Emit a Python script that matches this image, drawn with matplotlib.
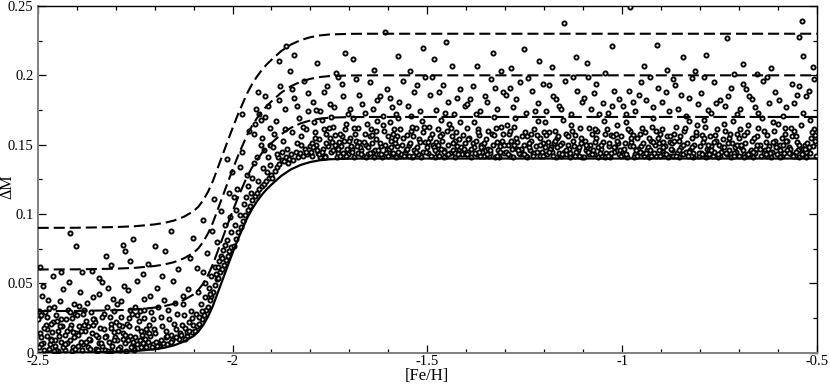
import numpy as np
import matplotlib
matplotlib.use("Agg")
import matplotlib.pyplot as plt

# ---- model curves ----
curve_feh = [-2.5, -2.4, -2.3, -2.25, -2.2, -2.175, -2.15, -2.125, -2.1, -2.0875, -2.075, -2.0625,
             -2.05, -2.0375, -2.025, -2.0125, -2.0, -1.9875, -1.975, -1.9625, -1.95, -1.9375, -1.925,
             -1.9125, -1.9, -1.875, -1.85, -1.825, -1.8, -1.775, -1.75, -1.7, -1.65, -0.5]
curve_base = [0.0, 0.0001, 0.0006, 0.0012, 0.0025, 0.0036, 0.0053, 0.0080, 0.0120, 0.0153, 0.0200, 0.0262,
              0.0340, 0.0435, 0.0530, 0.0625, 0.0718, 0.0808, 0.0890, 0.0970, 0.1035, 0.1090, 0.1138,
              0.1178, 0.1212, 0.1275, 0.1322, 0.1354, 0.1375, 0.1388, 0.1395, 0.1399, 0.14, 0.14]
curve_03 = [0.03, 0.0301, 0.0306, 0.0312, 0.0325, 0.0336, 0.0353, 0.0380, 0.0420, 0.0453, 0.0500, 0.0562,
            0.0640, 0.0735, 0.0830, 0.0925, 0.1018, 0.1108, 0.1190, 0.1270, 0.1335, 0.1390, 0.1438,
            0.1478, 0.1512, 0.1575, 0.1622, 0.1654, 0.1675, 0.1688, 0.1695, 0.1699, 0.17, 0.17]
curve_06 = [0.06, 0.0601, 0.0606, 0.0612, 0.0625, 0.0636, 0.0653, 0.0680, 0.0720, 0.0753, 0.0800, 0.0862,
            0.0940, 0.1035, 0.1130, 0.1225, 0.1318, 0.1408, 0.1490, 0.1570, 0.1635, 0.1690, 0.1738,
            0.1778, 0.1812, 0.1875, 0.1922, 0.1954, 0.1975, 0.1988, 0.1995, 0.1999, 0.20, 0.20]
curve_09 = [0.09, 0.0901, 0.0906, 0.0912, 0.0925, 0.0936, 0.0953, 0.0980, 0.1020, 0.1053, 0.1100, 0.1162,
            0.1240, 0.1335, 0.1430, 0.1525, 0.1618, 0.1708, 0.1790, 0.1870, 0.1935, 0.1990, 0.2038,
            0.2078, 0.2112, 0.2175, 0.2222, 0.2254, 0.2275, 0.2288, 0.2295, 0.2299, 0.23, 0.23]

# ---- stars: ([Fe/H] in 1e-3 dex, DeltaM in 1e-3) ----
stars_metal_poor = [
 (-2494,14),(-2471,3),(-2452,27),(-2418,9),(-2437,19),(-2406,35),(-2486,7),(-2461,22),(-2429,2),(-2489,41),
 (-2445,12),(-2412,25),(-2477,17),(-2456,5),(-2423,31),(-2498,24),(-2466,10),(-2434,46),(-2402,14),(-2481,29),
 (-2448,1),(-2415,20),(-2473,38),(-2440,8),(-2409,4),(-2491,11),(-2458,33),(-2426,16),(-2484,2),(-2450,23),
 (-2420,51),(-2496,30),(-2468,6),(-2431,13),(-2404,28),(-2479,20),(-2443,37),(-2413,1),(-2463,15),(-2487,48),
 (-2475,26),(-2455,9),(-2435,4),(-2417,18),(-2492,6),(-2470,32),(-2447,16),(-2427,24),(-2408,11),
 (-2417,86),(-2402,77),(-2494,62),(-2460,55),(-2440,58),
 (-2397,13),(-2372,4),(-2355,24),(-2318,8),(-2339,18),(-2306,39),(-2384,6),(-2362,29),(-2327,2),(-2391,44),
 (-2345,11),(-2312,21),(-2378,16),(-2351,3),(-2323,33),(-2399,27),(-2366,9),(-2334,51),(-2303,15),(-2381,31),
 (-2348,1),(-2315,26),(-2374,36),(-2342,7),(-2309,5),(-2393,19),(-2358,40),(-2325,12),(-2386,2),(-2352,22),
 (-2320,47),(-2395,34),(-2369,10),(-2331,17),(-2304,30),(-2377,23),(-2343,42),(-2313,1),(-2361,14),(-2389,8),
 (-2336,5),(-2357,20),(-2329,28),(-2301,11),(-2370,19),
 (-2387,58),(-2360,59),(-2342,54),(-2313,63),(-2325,70),
 (-2296,9),(-2270,21),(-2253,3),(-2219,15),(-2238,30),(-2205,6),(-2285,37),(-2262,12),(-2228,25),(-2290,2),
 (-2246,18),(-2211,41),(-2277,7),(-2257,28),(-2224,10),(-2299,22),(-2267,45),(-2234,4),(-2202,17),(-2281,14),
 (-2249,33),(-2216,8),(-2274,1),(-2241,23),(-2208,29),(-2293,16),(-2259,5),(-2227,39),(-2287,26),(-2251,11),
 (-2221,4),(-2297,35),(-2265,19),(-2232,13),(-2204,24),(-2279,48),(-2244,6),(-2214,20),(-2263,31),(-2288,4),
 (-2236,16),(-2212,12),(-2283,19),(-2255,8),
 (-2280,78),(-2256,82),(-2275,73),(-2245,52),(-2230,57),(-2218,64),(-2262,66),
]

stars_metal_poor_dense = [
 (-2497,4),(-2483,18),(-2467,9),(-2454,2),(-2439,24),(-2424,7),(-2410,15),(-2492,27),(-2476,12),(-2459,1),
 (-2444,19),(-2430,6),(-2416,29),(-2403,3),(-2465,21),
 (-2396,5),(-2380,20),(-2365,3),(-2350,13),(-2335,26),(-2319,1),(-2305,9),(-2390,16),(-2375,8),(-2359,24),
 (-2344,2),(-2328,11),(-2311,18),(-2383,28),(-2337,7),
 (-2295,3),(-2282,10),(-2266,25),(-2252,2),(-2237,9),(-2222,17),(-2207,4),(-2291,20),(-2276,13),(-2260,4),
 (-2245,27),(-2230,7),(-2215,14),(-2269,9),(-2226,31),
]

stars_transition = [
 (-2199,77),(-2173,73),(-2159,88),(-2101,83),(-2075,96),
 (-2196,8),(-2181,19),(-2167,6),(-2142,28),(-2118,12),(-2190,33),(-2155,9),(-2127,41),(-2104,15),(-2186,6),
 (-2162,24),(-2134,14),(-2111,22),(-2193,47),(-2170,11),(-2147,36),(-2121,18),(-2178,7),(-2152,52),(-2130,20),
 (-2107,30),(-2184,26),(-2158,13),(-2138,10),(-2114,46),(-2198,14),(-2175,38),(-2145,17),(-2124,27),(-2102,20),
 (-2188,5),(-2165,31),(-2139,60),(-2116,15),(-2180,55),(-2150,21),(-2110,68),(-2128,35),(-2171,16),
 (-2195,5),(-2183,9),(-2169,12),(-2157,8),(-2144,11),(-2132,13),(-2122,10),(-2112,16),(-2105,25),
 (-2097,16),(-2094,28),(-2090,19),(-2088,44),(-2085,21),(-2082,35),(-2079,24),(-2076,58),(-2073,27),(-2071,40),
 (-2068,31),(-2066,72),(-2064,33),(-2061,47),(-2059,38),(-2056,55),(-2054,41),(-2052,88),(-2049,44),(-2046,62),
 (-2044,49),(-2041,53),(-2039,80),(-2037,54),(-2034,66),(-2032,58),(-2029,102),(-2027,60),(-2024,74),(-2022,63),
 (-2019,92),(-2017,67),(-2015,81),(-2012,70),(-2010,115),(-2008,73),(-2005,87),(-2003,76),(-2001,130),(-2092,61),
 (-2070,50),(-2047,111),(-2030,70),(-2013,140),(-2086,26),(-2058,42),(-2036,62),(-2020,78),(-2007,98),(-2078,30),
 (-2043,57),(-2026,68),
 (-1997,77),(-1994,92),(-1991,82),(-1988,118),(-1985,87),(-1982,99),(-1979,91),(-1976,145),(-1973,95),(-1970,107),
 (-1967,99),(-1964,128),(-1961,103),(-1958,160),(-1955,106),(-1952,115),(-1949,110),(-1946,137),(-1943,113),(-1940,176),
 (-1937,115),(-1934,124),(-1931,118),(-1928,150),(-1925,120),(-1922,133),(-1919,122),(-1916,185),(-1913,124),(-1910,141),
 (-1907,126),(-1904,162),(-1901,128),(-1995,112),(-1981,134),(-1966,112),(-1950,126),(-1938,141),(-1927,168),(-1912,130),
 (-1990,103),(-1960,120),(-1945,158),(-1920,146),(-1905,135),(-1975,172),(-1942,165),(-1933,172),(-1924,155),(-1917,170),
 (-1908,178),(-1903,150),(-1935,188),
 (-1898,126),(-1895,148),(-1892,131),(-1889,167),(-1886,134),(-1883,141),(-1880,136),(-1877,192),(-1874,139),(-1871,153),
 (-1868,138),(-1865,176),(-1862,141),(-1859,147),(-1856,140),(-1853,203),(-1850,143),(-1847,159),(-1844,139),(-1841,184),
 (-1838,145),(-1835,151),(-1832,141),(-1829,169),(-1826,144),(-1823,156),(-1820,142),(-1817,196),(-1814,147),(-1811,161),
 (-1808,143),(-1805,174),(-1802,149),(-1893,158),(-1881,182),(-1866,161),(-1848,190),(-1834,178),(-1819,163),(-1806,187),
 (-1880,210),(-1862,221),(-1843,215),(-1887,143),(-1857,137),(-1872,145),(-1825,150),(-1811,145),
]

stars_metal_rich = [
 (-1796,151),(-1781,144),(-1742,163),(-1763,142),(-1718,156),(-1707,147),(-1789,159),(-1754,149),(-1733,141),(-1771,168),
 (-1726,152),(-1795,142),(-1748,145),(-1712,161),(-1779,154),(-1738,157),(-1768,147),(-1703,143),(-1792,166),(-1759,158),
 (-1721,149),(-1746,170),(-1784,146),(-1730,144),(-1714,153),(-1775,141),(-1751,155),(-1709,165),(-1786,150),(-1735,148),
 (-1766,161),(-1723,142),(-1799,145),(-1744,152),
 (-1793,181),(-1776,174),(-1757,192),(-1739,177),(-1728,199),(-1716,185),(-1704,172),(-1765,188),(-1749,179),(-1720,194),
 (-1785,175),(-1783,209),(-1734,202),(-1711,216),
 (-1694,147),(-1661,158),(-1688,141),(-1643,151),(-1677,162),(-1606,144),(-1652,143),(-1629,167),(-1699,155),(-1619,149),
 (-1670,146),(-1636,141),(-1683,153),(-1611,160),(-1657,150),(-1625,143),(-1690,169),(-1648,156),(-1602,142),(-1673,148),
 (-1632,154),(-1614,164),(-1666,142),(-1640,145),(-1686,158),(-1622,151),(-1604,147),(-1679,144),(-1655,165),(-1617,141),
 (-1645,161),(-1697,149),(-1634,146),(-1663,152),
 (-1698,176),(-1675,186),(-1659,173),(-1646,195),(-1630,182),(-1615,171),(-1604,190),(-1684,197),(-1668,179),(-1621,185),
 (-1640,176),(-1692,212),(-1638,204),(-1608,231),
 (-1591,143),(-1562,155),(-1578,149),(-1517,141),(-1543,160),(-1505,152),(-1596,166),(-1533,146),(-1570,142),(-1551,157),
 (-1526,148),(-1584,151),(-1509,163),(-1558,144),(-1539,141),(-1599,147),(-1574,169),(-1521,154),(-1546,142),(-1588,158),
 (-1512,145),(-1565,150),(-1530,162),(-1581,141),(-1502,148),(-1555,146),(-1594,153),(-1537,156),(-1568,143),(-1514,167),
 (-1548,150),(-1576,145),(-1524,143),(-1586,161),
 (-1597,184),(-1580,172),(-1563,196),(-1549,178),(-1535,188),(-1519,174),(-1507,199),(-1573,181),(-1541,171),(-1527,193),
 (-1590,177),(-1575,214),(-1545,203),(-1511,220),
 (-1486,150),(-1453,142),(-1472,161),(-1419,147),(-1498,144),(-1437,156),(-1465,168),(-1404,151),(-1481,141),(-1426,159),
 (-1458,146),(-1492,155),(-1411,143),(-1446,150),(-1475,145),(-1430,141),(-1495,163),(-1462,153),(-1415,166),(-1441,144),
 (-1484,148),(-1408,157),(-1469,142),(-1450,160),(-1423,149),(-1478,152),(-1433,146),(-1400,143),(-1489,158),(-1456,141),
 (-1418,154),(-1444,165),(-1466,147),(-1428,144),
 (-1494,186),(-1477,175),(-1460,193),(-1448,181),(-1431,172),(-1416,190),(-1403,178),(-1487,199),(-1455,173),(-1424,184),
 (-1470,188),(-1483,212),(-1451,224),(-1436,207),
 (-1395,145),(-1368,157),(-1341,142),(-1384,151),(-1310,163),(-1357,148),(-1326,141),(-1399,162),(-1373,143),(-1349,154),
 (-1318,146),(-1388,141),(-1335,158),(-1362,150),(-1303,144),(-1379,166),(-1345,147),(-1322,152),(-1392,155),(-1354,142),
 (-1313,149),(-1370,161),(-1338,144),(-1306,158),(-1381,148),(-1329,170),(-1359,145),(-1315,141),(-1376,153),(-1343,160),
 (-1398,143),(-1332,150),(-1365,142),(-1308,153),
 (-1397,179),(-1383,192),(-1366,174),(-1351,185),(-1336,197),(-1320,176),(-1305,188),(-1375,172),(-1346,181),(-1327,191),
 (-1390,183),(-1372,207),(-1331,216),(-1312,203),
 (-1293,150),(-1262,143),(-1278,163),(-1236,146),(-1210,155),(-1288,142),(-1249,159),(-1221,149),(-1297,145),(-1271,152),
 (-1243,141),(-1215,167),(-1283,147),(-1256,156),(-1229,143),(-1203,151),(-1275,169),(-1239,148),(-1212,142),(-1290,158),
 (-1266,144),(-1225,161),(-1252,150),(-1206,145),(-1281,141),(-1233,153),(-1259,146),(-1218,157),(-1295,164),(-1246,142),
 (-1270,147),(-1227,144),(-1201,159),(-1285,153),
 (-1298,186),(-1280,177),(-1263,195),(-1248,173),(-1231,189),(-1217,180),(-1202,194),(-1272,183),(-1241,198),(-1224,174),
 (-1289,191),(-1286,205),(-1253,219),(-1214,210),
 (-1194,143),(-1167,155),(-1182,148),(-1133,141),(-1109,162),(-1176,151),(-1148,145),(-1121,157),(-1199,166),(-1158,142),
 (-1140,150),(-1114,146),(-1188,159),(-1162,144),(-1127,153),(-1103,141),(-1179,145),(-1152,168),(-1136,147),(-1117,143),
 (-1191,152),(-1170,141),(-1145,158),(-1124,149),(-1106,155),(-1185,147),(-1155,151),(-1130,164),(-1111,142),(-1173,160),
 (-1143,143),(-1197,148),(-1119,145),(-1164,156),
 (-1196,174),(-1178,185),(-1161,178),(-1147,196),(-1131,172),(-1116,189),(-1104,181),(-1187,193),(-1157,176),(-1125,199),
 (-1170,183),(-1149,238),(-1181,206),(-1118,213),
 (-1092,146),(-1061,141),(-1077,158),(-1035,149),(-1008,143),(-1086,162),(-1049,152),(-1021,145),(-1098,141),(-1067,155),
 (-1041,144),(-1014,164),(-1082,150),(-1055,147),(-1028,157),(-1003,142),(-1073,143),(-1046,167),(-1018,148),(-1095,153),
 (-1064,160),(-1031,141),(-1010,151),(-1079,145),(-1052,142),(-1024,156),(-1089,148),(-1058,144),(-1038,161),(-1006,146),
 (-1070,152),(-1043,141),(-1016,158),(-1084,143),
 (-1097,184),(-1081,176),(-1066,194),(-1050,180),(-1036,173),(-1022,189),(-1007,183),(-1088,199),(-1059,172),(-1027,178),
 (-1073,187),(-1091,209),(-1045,202),(-1026,221),
 (-993,151),(-968,143),(-981,160),(-937,146),(-909,155),(-987,141),(-952,149),(-923,163),(-999,145),(-973,157),
 (-945,142),(-916,150),(-990,166),(-959,147),(-930,141),(-903,158),(-976,152),(-948,144),(-920,169),(-996,143),
 (-963,155),(-934,148),(-912,142),(-984,161),(-955,145),(-926,153),(-905,146),(-970,141),(-941,159),(-918,144),
 (-979,149),(-950,162),(-927,142),(-906,151),
 (-998,178),(-983,189),(-966,174),(-951,195),(-938,182),(-922,177),(-908,191),(-991,172),(-958,186),(-929,199),
 (-972,181),(-980,249),(-944,207),(-911,222),
 (-894,145),(-866,158),(-880,142),(-834,151),(-808,164),(-889,149),(-853,141),(-822,155),(-899,161),(-871,146),
 (-843,143),(-815,150),(-885,156),(-858,144),(-829,167),(-804,142),(-876,152),(-848,148),(-819,141),(-892,143),
 (-862,163),(-837,145),(-811,157),(-882,141),(-855,153),(-826,146),(-801,149),(-869,142),(-840,160),(-817,144),
 (-896,152),(-851,156),(-824,142),(-874,147),
 (-897,181),(-879,174),(-864,193),(-850,186),(-836,171),(-821,198),(-806,179),(-888,188),(-857,176),(-828,184),
 (-870,197),(-886,204),(-845,213),(-812,203),
 (-793,152),(-767,142),(-781,147),(-736,160),(-708,145),(-788,163),(-752,150),(-721,141),(-798,144),(-774,156),
 (-744,148),(-716,167),(-785,141),(-759,153),(-731,143),(-704,158),(-778,146),(-748,142),(-719,151),(-795,157),
 (-763,145),(-739,165),(-711,148),(-783,143),(-756,161),(-727,146),(-701,142),(-771,149),(-741,154),(-714,144),
 (-790,168),(-754,141),(-725,155),(-776,143),
 (-797,187),(-780,175),(-765,195),(-750,182),(-735,178),(-720,191),(-706,172),(-789,199),(-758,180),(-728,185),
 (-772,173),(-786,215),(-731,227),(-712,201),
 (-694,148),(-663,141),(-679,159),(-634,146),(-607,153),(-688,143),(-651,162),(-622,149),(-699,155),(-671,145),
 (-643,142),(-614,166),(-684,151),(-657,147),(-628,157),(-603,143),(-676,164),(-647,150),(-618,141),(-691,146),
 (-666,153),(-637,144),(-611,160),(-681,142),(-654,156),(-625,147),(-605,150),(-673,143),(-640,169),(-616,145),
 (-697,161),(-660,144),(-631,152),(-686,141),
 (-698,176),(-682,190),(-667,183),(-652,173),(-638,196),(-623,180),(-608,188),(-690,194),(-659,177),(-627,199),
 (-675,185),(-689,208),(-655,201),(-619,205),
 (-594,150),(-566,143),(-581,158),(-537,147),(-508,161),(-589,142),(-552,152),(-523,145),(-599,165),(-572,148),
 (-545,141),(-515,155),(-585,144),(-559,160),(-530,150),(-503,142),(-576,153),(-549,146),(-519,168),(-596,141),
 (-563,156),(-534,143),(-511,149),(-583,162),(-555,145),(-527,141),(-506,157),(-569,147),(-541,164),(-517,144),
 (-591,155),(-557,142),(-525,151),(-578,146),
 (-597,182),(-579,177),(-564,194),(-550,186),(-536,173),(-521,189),(-507,197),(-588,171),(-560,180),(-529,185),
 (-545,192),(-538,239),(-547,228),(-535,214),(-509,206),
]

stars_metal_rich_dense = [
 (-1794,148),(-1777,143),(-1760,151),(-1741,146),(-1725,158),(-1708,142),(-1787,155),(-1770,145),(-1752,162),(-1736,150),
 (-1717,144),(-1701,153),(-1762,141),(-1729,147),
 (-1693,145),(-1676,152),(-1658,141),(-1642,157),(-1627,146),(-1609,150),(-1687,162),(-1669,143),(-1651,148),(-1633,160),
 (-1618,143),(-1601,156),(-1681,149),(-1647,144),
 (-1593,148),(-1577,156),(-1560,142),(-1544,151),(-1528,145),(-1510,159),(-1589,144),(-1571,161),(-1553,147),(-1536,142),
 (-1519,152),(-1504,145),(-1583,154),(-1540,163),
 (-1497,152),(-1480,146),(-1463,158),(-1447,143),(-1429,153),(-1413,148),(-1491,142),(-1473,150),(-1457,145),(-1439,162),
 (-1421,143),(-1406,147),(-1468,156),(-1435,151),
 (-1396,154),(-1378,144),(-1361,148),(-1347,143),(-1330,157),(-1314,145),(-1389,147),(-1371,159),(-1355,151),(-1339,146),
 (-1321,142),(-1304,150),(-1367,145),(-1325,162),
 (-1294,143),(-1277,150),(-1260,147),(-1244,156),(-1228,142),(-1211,150),(-1287,160),(-1268,146),(-1251,143),(-1235,158),
 (-1219,145),(-1204,142),(-1273,155),(-1240,151),
 (-1195,157),(-1177,142),(-1160,150),(-1144,146),(-1128,160),(-1110,148),(-1189,145),(-1172,153),(-1154,143),(-1138,156),
 (-1122,142),(-1105,151),(-1166,148),(-1134,144),
 (-1094,150),(-1078,143),(-1062,148),(-1045,158),(-1029,144),(-1012,153),(-1087,145),(-1069,161),(-1053,150),(-1037,142),
 (-1020,148),(-1004,156),(-1075,146),(-1033,151),
 (-995,147),(-978,155),(-961,142),(-946,151),(-928,146),(-913,160),(-989,143),(-971,149),(-954,158),(-939,144),
 (-921,152),(-904,142),(-965,146),(-932,155),
 (-895,148),(-877,156),(-861,142),(-844,150),(-828,145),(-810,159),(-888,143),(-872,151),(-854,146),(-838,162),
 (-820,148),(-803,144),(-866,153),(-831,142),
 (-796,143),(-779,150),(-762,157),(-746,145),(-729,151),(-713,142),(-789,155),(-772,146),(-755,143),(-738,148),
 (-722,158),(-706,150),(-764,152),(-733,144),
 (-695,150),(-678,143),(-662,155),(-646,147),(-629,142),(-613,152),(-688,157),(-670,146),(-653,150),(-636,160),
 (-620,144),(-604,148),(-665,145),(-632,143),
 (-595,146),(-579,153),(-562,142),(-546,150),(-529,145),(-513,159),(-588,150),(-571,144),(-554,156),(-538,143),
 (-521,148),(-504,153),(-566,162),(-531,147),
]

x_ticks = [-2.5, -2.0, -1.5, -1.0, -0.5]
x_tick_labels = ["-2.5", "-2", "-1.5", "-1", "-0.5"]
y_ticks = [0.0, 0.05, 0.1, 0.15, 0.2, 0.25]
y_tick_labels = ["0", "0.05", "0.1", "0.15", "0.2", "0.25"]

plt.rcParams['font.family'] = ['Liberation Serif', 'DejaVu Serif']

fig = plt.figure(figsize=(8.30, 3.89), dpi=100)
ax = fig.add_axes([0.0454, 0.0933, 0.9389, 0.8913])

stars = np.array(stars_metal_poor + stars_metal_poor_dense + stars_transition
                 + stars_metal_rich + stars_metal_rich_dense, dtype=float) / 1000.0
ax.scatter(stars[:, 0], stars[:, 1], s=9, facecolor='white', edgecolor='black',
           linewidths=1.35, zorder=3)

ax.plot(curve_feh, curve_base, color='black', lw=1.6, zorder=4)
ax.plot(curve_feh, curve_03, color='black', lw=1.5, ls=(0, (6.5, 2.2)), zorder=4)
ax.plot(curve_feh, curve_06, color='black', lw=1.5, ls=(0, (5.3, 2.4)), zorder=4)
ax.plot(curve_feh, curve_09, color='black', lw=1.5, ls=(0, (5.3, 2.4)), zorder=4)

ax.set_xlim(-2.5, -0.5)
ax.set_ylim(0, 0.25)
ax.set_xticks(x_ticks)
ax.set_xticklabels(x_tick_labels)
ax.set_yticks(y_ticks)
ax.set_yticklabels(y_tick_labels)
ax.set_xticks(np.arange(-2.5, -0.49, 0.1), minor=True)
ax.set_yticks(np.arange(0, 0.2501, 0.025), minor=True)
ax.tick_params(which='both', direction='in', top=True, right=True, labelsize=10.5, width=0.9)
ax.tick_params(which='major', length=6)
ax.tick_params(which='minor', length=3)
ax.tick_params(axis='x', pad=2)
ax.tick_params(axis='y', pad=3)

for side in ['left', 'bottom']:
    ax.spines[side].set_color('#808080')
    ax.spines[side].set_linewidth(1.4)
for side in ['top', 'right']:
    ax.spines[side].set_color('black')
    ax.spines[side].set_linewidth(1.0)

ax.set_xlabel('[Fe/H]', fontsize=12, labelpad=0)
ax.set_ylabel('ΔM', fontsize=11.5)
ax.yaxis.set_label_coords(-0.029, 0.48)

fig.savefig('out.png', dpi=100)
